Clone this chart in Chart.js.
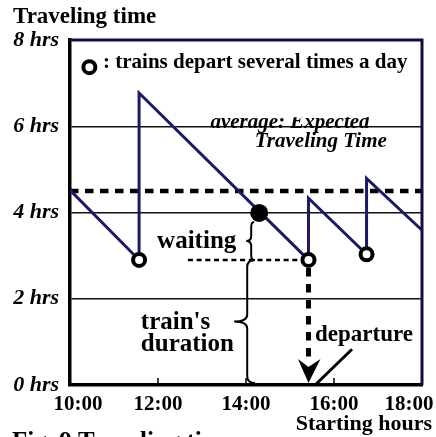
<!DOCTYPE html>
<html>
<head>
<meta charset="utf-8">
<script src="https://cdn.jsdelivr.net/npm/chart.js@4.4.1/dist/chart.umd.min.js"></script>
<style>
html,body{margin:0;padding:0;background:#fff;}
#wrap{width:436px;height:437px;}
</style>
</head>
<body>
<div id="wrap"><canvas id="c" width="436" height="437"></canvas></div>
<script>
// ---- data ----
const hours      = [10, 11.57, 11.57, 15.42, 15.42, 16.74, 16.74, 18];
const travelTime = [4.52, 2.90, 6.77, 2.90, 4.33, 3.03, 4.79, 3.59];
const departHours = [11.57, 15.42, 16.74];
const departTimes = [2.90, 2.90, 3.03];
const exampleHour = [14.30];
const exampleTime = [3.99];
const averageTime = 4.5;
const waitingSpan = [12.68, 15.42];
const xTickValues = [10, 12, 14, 16, 18];
const xTickLabels = ['10:00', '12:00', '14:00', '16:00', '18:00'];
const yTickValues = [0, 2, 4, 6, 8];

const SERIF = '"Liberation Serif", "Times New Roman", serif';
Chart.defaults.font.family = SERIF;
Chart.defaults.color = '#000';

const sawData = hours.map((h, i) => ({x: h, y: travelTime[i]}));
const departData = departHours.map((h, i) => ({x: h, y: departTimes[i]}));
const exampleData = exampleHour.map((h, i) => ({x: h, y: exampleTime[i]}));
const avgData = [{x: xTickValues[0], y: averageTime}, {x: xTickValues[xTickValues.length - 1], y: averageTime}];
const waitData = [{x: waitingSpan[0], y: departTimes[1]}, {x: waitingSpan[1], y: departTimes[1]}];
const departArrow = [{x: departHours[1], y: departTimes[1]}, {x: departHours[1], y: 0.62}];
const departPointer = [{x: 15.57, y: 0}, {x: 16.41, y: 0.83}];

function brace(ctx, x, y0, y1, d, r) {
  const ym = (y0 + y1) / 2;
  ctx.beginPath();
  ctx.moveTo(x + d * 0.6, y0);
  ctx.quadraticCurveTo(x, y0, x, y0 + r);
  ctx.lineTo(x, ym - r);
  ctx.quadraticCurveTo(x, ym, x - d, ym);
  ctx.quadraticCurveTo(x, ym, x, ym + r);
  ctx.lineTo(x, y1 - r);
  ctx.quadraticCurveTo(x, y1, x + d * 0.6, y1);
  ctx.stroke();
}

const decor = {
  id: 'decor',
  afterDatasetsDraw(chart) {
    const ctx = chart.ctx;
    const xs = chart.scales.x, ys = chart.scales.y;
    const px = v => xs.getPixelForValue(v);
    const py = v => ys.getPixelForValue(v);
    const a = chart.chartArea;
    ctx.save();
    // top and right frame
    ctx.strokeStyle = '#10103c';
    ctx.lineWidth = 3;
    ctx.beginPath();
    ctx.moveTo(a.left - 1, a.top);
    ctx.lineTo(a.right, a.top);
    ctx.lineTo(a.right, a.bottom);
    ctx.stroke();
    // inner tick marks
    ctx.strokeStyle = '#000';
    ctx.lineWidth = 1.5;
    xTickValues.slice(1, -1).forEach(v => {
      ctx.beginPath();
      ctx.moveTo(px(v), a.bottom);
      ctx.lineTo(px(v), a.bottom - 7);
      ctx.stroke();
    });
    // x tick labels
    ctx.fillStyle = '#000';
    ctx.font = 'bold 21px ' + SERIF;
    ctx.textAlign = 'center';
    ctx.textBaseline = 'alphabetic';
    xTickValues.forEach((v, i) => {
      let x = Math.min(Math.max(px(v), a.left + 8), a.right - 13);
      ctx.fillText(xTickLabels[i], x, 409.5);
    });
    // axis titles
    ctx.font = 'bold 23px ' + SERIF;
    ctx.textAlign = 'left';
    ctx.fillText('Traveling time', 13, 23);
    ctx.font = 'bold 22px ' + SERIF;
    ctx.textAlign = 'right';
    ctx.fillText('Starting hours', 432, 430);
    ctx.font = 'bold 25px ' + SERIF;
    ctx.textAlign = 'left';
    ctx.fillText('Fig. 9 Traveling time', 12, 448.5);
    // legend
    ctx.beginPath();
    ctx.arc(px(10.44), py(7.37), 6, 0, Math.PI * 2);
    ctx.fillStyle = '#fff';
    ctx.fill();
    ctx.lineWidth = 4;
    ctx.strokeStyle = '#000';
    ctx.stroke();
    ctx.fillStyle = '#000';
    ctx.font = 'bold 21px ' + SERIF;
    ctx.textAlign = 'left';
    ctx.fillText(': trains depart several times a day', px(10.75), py(7.35));
    // average label (top clipped)
    ctx.save();
    ctx.beginPath();
    ctx.rect(0, py(6.21), 436, 200);
    ctx.clip();
    ctx.font = 'italic bold 21px ' + SERIF;
    ctx.textAlign = 'center';
    ctx.fillText('average: Expected', px(15.0), py(5.95));
    ctx.restore();
    ctx.font = 'italic bold 21px ' + SERIF;
    ctx.textAlign = 'center';
    ctx.fillText('Traveling Time', px(15.7), py(5.51));
    // waiting / duration labels
    ctx.font = 'bold 25px ' + SERIF;
    ctx.textAlign = 'left';
    ctx.fillText('waiting', px(11.98), py(3.17));
    ctx.fillText("train's", px(11.61), py(1.30));
    ctx.fillText('duration', px(11.61), py(0.79));
    ctx.font = 'bold 23px ' + SERIF;
    ctx.fillText('departure', px(15.57), py(1.02));
    // braces
    ctx.strokeStyle = '#000';
    ctx.lineWidth = 2;
    const bx = px(exampleHour[0]);
    brace(ctx, bx - 8, py(exampleTime[0]) + 9, py(departTimes[1]), 5, 5);
    brace(ctx, bx - 12, py(departTimes[1]), a.bottom - 2, 13, 7);
    // arrow head
    const ax = px(departHours[1]);
    const tip = a.bottom - 2;
    ctx.beginPath();
    ctx.moveTo(ax, tip);
    ctx.lineTo(ax - 10.5, tip - 24);
    ctx.lineTo(ax, tip - 16);
    ctx.lineTo(ax + 12, tip - 24);
    ctx.closePath();
    ctx.fillStyle = '#000';
    ctx.fill();
    ctx.restore();
  }
};

new Chart(document.getElementById('c'), {
  type: 'scatter',
  data: {
    datasets: [
      {label: 'example', data: exampleData, showLine: false, pointRadius: 9, pointBackgroundColor: '#000', pointBorderColor: '#000', pointBorderWidth: 0, order: 0},
      {label: 'departures', data: departData, showLine: false, pointRadius: 6, pointBackgroundColor: '#fff', pointBorderColor: '#000', pointBorderWidth: 4, order: 1},
      {label: 'traveling time', data: sawData, showLine: true, borderColor: '#1a1a66', borderWidth: 3, borderDash: [5000, 1], borderJoinStyle: 'miter', pointRadius: 0, order: 2},
      {label: 'average', data: avgData, showLine: true, borderColor: '#000', borderWidth: 4.5, borderDash: [8.5, 6.5], pointRadius: 0, order: 3},
      {label: 'waiting', data: waitData, showLine: true, borderColor: '#000', borderWidth: 2.5, borderDash: [5, 3.7], pointRadius: 0, order: 4},
      {label: 'departure arrow', data: departArrow, showLine: true, borderColor: '#000', borderWidth: 5, borderDash: [8.5, 7.5], borderDashOffset: -8, pointRadius: 0, order: 5},
      {label: 'departure pointer', data: departPointer, showLine: true, borderColor: '#000', borderWidth: 3, pointRadius: 0, clip: false, order: 6}
    ]
  },
  options: {
    responsive: false,
    animation: false,
    devicePixelRatio: 1,
    layout: {padding: {top: 40, right: 14, bottom: 0, left: 0}},
    plugins: {legend: {display: false}, tooltip: {enabled: false}, title: {display: false}},
    scales: {
      x: {
        type: 'linear', min: 10, max: 18,
        afterBuildTicks: s => { s.ticks = xTickValues.map(v => ({value: v})); },
        ticks: {display: false},
        grid: {display: false, drawTicks: false},
        border: {display: true, color: '#000', width: 3.5},
        afterFit: s => { s.height = 52; }
      },
      y: {
        min: 0, max: 8,
        afterBuildTicks: s => { s.ticks = yTickValues.map(v => ({value: v})); },
        ticks: {
          padding: 11,
          font: {size: 22, weight: 'bold', style: 'italic'},
          color: '#000',
          callback: v => v + ' hrs'
        },
        grid: {
          drawTicks: false,
          lineWidth: 1.5,
          color: c => (c.tick && (c.tick.value === 0 || c.tick.value === 8)) ? 'rgba(0,0,0,0)' : '#111'
        },
        border: {display: true, color: '#000', width: 3.5},
        afterFit: s => { s.width = 70; }
      }
    }
  },
  plugins: [decor]
});
</script>
</body>
</html>
